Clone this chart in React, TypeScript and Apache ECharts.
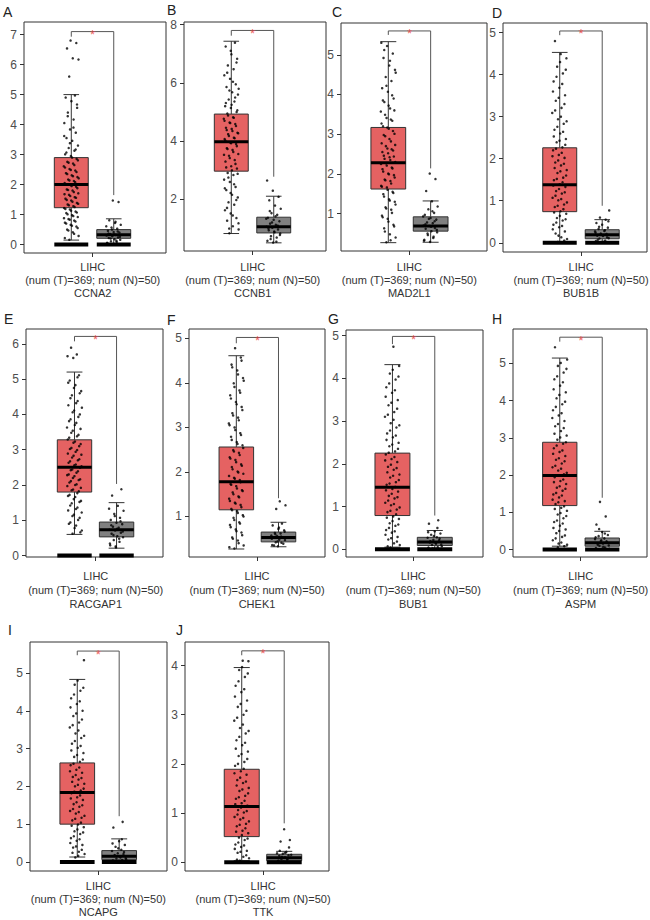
import React, { useEffect, useRef } from "react";
import * as echarts from "echarts";

// ---------------- data ----------------
const genes = ["CCNA2", "CCNB1", "MAD2L1", "BUB1B", "RACGAP1", "CHEK1", "BUB1", "ASPM", "NCAPG", "TTK"];
const panelLetters = ["A", "B", "C", "D", "E", "F", "G", "H", "I", "J"];
const cancerType = "LIHC";
const sampleNote = "(num (T)=369; num (N)=50)";

// box statistics [lower whisker, Q1, median, Q3, upper whisker]
const tumorStats = [
  [0.15, 1.23, 2.0, 2.9, 5.0],
  [0.83, 2.97, 3.98, 4.93, 7.43],
  [0.27, 1.62, 2.28, 3.17, 5.33],
  [0.0, 0.74, 1.38, 2.26, 4.53],
  [0.6, 1.8, 2.5, 3.28, 5.2],
  [0.27, 1.15, 1.78, 2.56, 4.61],
  [0.05, 0.79, 1.45, 2.25, 4.32],
  [0.09, 1.18, 1.99, 2.88, 5.14],
  [0.13, 1.0, 1.84, 2.62, 4.83],
  [0.03, 0.52, 1.13, 1.89, 3.96],
];
const normalStats = [
  [0.0, 0.21, 0.33, 0.5, 0.86],
  [0.51, 0.85, 1.06, 1.39, 2.11],
  [0.28, 0.56, 0.69, 0.92, 1.32],
  [0.0, 0.095, 0.19, 0.31, 0.55],
  [0.21, 0.53, 0.73, 0.95, 1.5],
  [0.32, 0.43, 0.53, 0.65, 0.87],
  [0.0, 0.09, 0.17, 0.28, 0.44],
  [0.0, 0.09, 0.18, 0.31, 0.49],
  [0.0, 0.06, 0.15, 0.3, 0.61],
  [0.0, 0.03, 0.09, 0.16, 0.22],
];
// cluster of samples at exactly 0 (drawn as a bar at y = 0)
const tumorZeroCluster = [1, 0, 0, 1, 1, 0, 1, 1, 1, 1];
const normalZeroCluster = [1, 0, 0, 1, 1, 0, 1, 1, 1, 1];

// significance bracket: [top, left leg end, right leg end]
const bracketTop = [7.1, 7.8, 5.6, 5.04, 6.21, 5.02, 4.98, 5.7, 5.58, 4.3];
const bracketLeftEnd = [6.93, 7.62, 5.5, 4.94, 6.07, 4.89, 4.8, 5.58, 5.47, 4.21];
const bracketRightEnd = [1.65, 2.78, 2.14, 0.88, 2.03, 1.41, 0.79, 1.39, 1.21, 0.79];

// y tick labels
const yTicks = [
  [0, 1, 2, 3, 4, 5, 6, 7],
  [2, 4, 6, 8],
  [1, 2, 3, 4, 5],
  [0, 1, 2, 3, 4, 5],
  [0, 1, 2, 3, 4, 5, 6],
  [1, 2, 3, 4, 5],
  [0, 1, 2, 3, 4, 5],
  [0, 1, 2, 3, 4, 5],
  [0, 1, 2, 3, 4, 5],
  [0, 1, 2, 3, 4],
];

// jittered sample points
const tumorA = [0.16,0.29,0.41,0.5,0.6,0.66,0.73,0.8,0.85,0.92,0.98,1.05,1.1,1.17,1.22,1.28,1.34,1.39,1.47,1.53,1.58,1.66,1.71,1.8,1.84,1.93,1.99,2.05,2.12,2.17,2.25,2.31,2.38,2.47,2.52,2.61,2.7,2.76,2.86,2.95,3.01,3.13,3.22,3.3,3.46,3.55,3.73,3.84,4.05,4.17,4.4,4.56,4.78,4.9,4.97,5.6,6.17,6.21,6.54,6.72,6.8,
  0.22,0.36,0.47,0.55,0.63,0.7,0.77,0.83,0.88,0.95,1.01,1.07,1.13,1.19,1.25,1.31,1.36,1.43,1.49,1.56,1.62,1.68,1.75,1.82,1.88,1.95,2.02,2.08,2.14,2.21,2.28,2.35,2.42,2.49,2.57,2.65,2.73,2.81,2.9,3.07,3.17,3.38,3.62,3.9,4.28,4.67];
const normalA = [0.02,0.04,0.09,0.11,0.16,0.18,0.22,0.24,0.28,0.3,0.32,0.35,0.4,0.42,0.46,0.53,0.57,0.66,0.72,0.81,1.42,1.47,
  0.06,0.13,0.2,0.26,0.34,0.37,0.44,0.5,0.61,0.76];
const tumorB = [0.84,0.97,1.08,1.27,1.36,1.52,1.63,1.82,1.9,2.07,2.16,2.32,2.43,2.6,2.68,2.84,2.91,3.06,3.14,3.3,3.35,3.5,3.56,3.7,3.76,3.9,3.95,4.07,4.12,4.24,4.29,4.42,4.46,4.59,4.64,4.77,4.82,4.95,5.0,5.14,5.2,5.36,5.43,5.6,5.68,5.86,5.95,6.14,6.26,6.47,6.6,6.83,6.98,7.25,7.38,
  1.0,1.18,1.45,1.71,1.98,2.22,2.38,2.52,2.75,2.88,3.0,3.1,3.22,3.42,3.53,3.63,3.73,3.83,3.93,4.02,4.1,4.18,4.27,4.35,4.38,4.52,4.62,4.7,4.8,4.88,5.06,5.25,5.31,5.5,5.74,5.8,6.04,6.35,6.7,7.1];
const normalB = [0.52,0.58,0.69,0.74,0.83,0.87,0.94,0.97,1.03,1.06,1.13,1.17,1.25,1.3,1.37,1.47,1.53,1.68,1.79,1.97,2.09,2.3,2.65,
  0.55,0.64,0.78,0.9,1.0,1.1,1.21,1.34,1.42,1.6];
const tumorC = [0.28,0.4,0.48,0.63,0.72,0.87,0.95,1.1,1.16,1.3,1.36,1.49,1.55,1.66,1.7,1.82,1.86,1.97,2.01,2.12,2.16,2.27,2.3,2.42,2.46,2.59,2.64,2.77,2.82,2.95,3.01,3.14,3.2,3.34,3.41,3.57,3.65,3.81,3.9,4.07,4.16,4.34,4.44,4.62,4.73,4.92,5.03,5.22,5.3,
  0.33,0.55,0.68,0.8,0.91,1.02,1.13,1.23,1.33,1.43,1.52,1.6,1.68,1.76,1.84,1.91,1.99,2.06,2.14,2.21,2.25,2.35,2.38,2.44,2.52,2.55,2.62,2.7,2.73,2.88,2.98,3.08,3.17,3.27,3.37,3.49,3.6,3.72,3.85,3.98,4.22,4.55,4.85,5.12];
const normalC = [0.29,0.34,0.42,0.46,0.53,0.56,0.62,0.64,0.69,0.7,0.76,0.78,0.85,0.89,0.97,1.02,1.11,1.18,1.31,1.57,1.87,2.01,
  0.32,0.39,0.5,0.59,0.67,0.73,0.81,0.87,0.93,1.06];
const tumorD = [0.02,0.09,0.13,0.22,0.27,0.37,0.43,0.53,0.59,0.69,0.75,0.85,0.91,1.01,1.07,1.17,1.23,1.33,1.39,1.49,1.55,1.66,1.73,1.84,1.91,2.02,2.09,2.2,2.27,2.39,2.47,2.6,2.69,2.83,2.94,3.09,3.21,3.38,3.51,3.69,3.84,4.03,4.19,4.39,4.49,4.8,
  0.05,0.17,0.32,0.4,0.48,0.56,0.64,0.72,0.8,0.88,0.96,1.04,1.12,1.2,1.28,1.36,1.44,1.52,1.6,1.7,1.78,1.88,1.96,2.06,2.14,2.24,2.33,2.43,2.53,2.64,2.76,2.89,3.0,3.15,3.3,3.45,3.6,3.78,3.95,4.12,4.3];
const normalD = [0.01,0.04,0.05,0.1,0.11,0.16,0.17,0.21,0.22,0.27,0.28,0.33,0.36,0.43,0.47,0.55,0.6,0.77,
  0.02,0.07,0.13,0.19,0.24,0.3,0.38,0.51];
const tumorE = [0.62,0.71,0.85,0.94,1.07,1.16,1.28,1.36,1.48,1.55,1.66,1.72,1.82,1.87,1.97,2.02,2.11,2.16,2.25,2.3,2.39,2.44,2.53,2.58,2.67,2.73,2.83,2.89,2.99,3.05,3.16,3.23,3.34,3.42,3.54,3.63,3.76,3.86,4.0,4.11,4.26,4.38,4.54,4.66,4.83,4.96,5.11,5.6,5.65,5.7,5.89,
  0.66,0.78,0.9,1.01,1.12,1.22,1.32,1.42,1.52,1.6,1.69,1.77,1.85,1.92,2.0,2.07,2.14,2.2,2.28,2.35,2.42,2.49,2.56,2.63,2.7,2.78,2.86,2.94,3.02,3.1,3.2,3.29,3.38,3.48,3.59,3.7,3.81,3.93,4.06,4.19,4.32,4.46,4.6,4.75,4.9,5.05];
const normalE = [0.23,0.29,0.39,0.44,0.52,0.55,0.62,0.65,0.71,0.73,0.79,0.82,0.89,0.93,1.01,1.07,1.18,1.27,1.41,1.7,1.88,
  0.26,0.34,0.48,0.58,0.68,0.76,0.86,0.97,1.12,1.33];
const tumorF = [0.28,0.35,0.46,0.53,0.64,0.71,0.81,0.87,0.97,1.03,1.12,1.17,1.26,1.31,1.4,1.45,1.54,1.59,1.68,1.73,1.82,1.87,1.96,2.01,2.11,2.17,2.27,2.33,2.43,2.49,2.6,2.67,2.79,2.87,3.0,3.09,3.22,3.32,3.46,3.57,3.72,3.83,3.99,4.11,4.28,4.41,4.57,4.78,
  0.31,0.4,0.5,0.58,0.67,0.76,0.84,0.92,1.0,1.08,1.14,1.21,1.29,1.35,1.43,1.5,1.57,1.63,1.71,1.77,1.85,1.91,1.99,2.06,2.14,2.22,2.3,2.38,2.46,2.54,2.63,2.72,2.83,2.94,3.05,3.16,3.27,3.39,3.52,3.65,3.78,3.91,4.05,4.19,4.35,4.5];
const normalF = [0.33,0.36,0.41,0.42,0.47,0.48,0.52,0.53,0.56,0.57,0.62,0.63,0.69,0.72,0.8,0.84,1.17,1.25,1.34,
  0.35,0.39,0.44,0.5,0.55,0.6,0.66,0.75];
const tumorG = [0.04,0.1,0.14,0.23,0.29,0.39,0.45,0.55,0.61,0.71,0.77,0.87,0.93,1.03,1.09,1.19,1.25,1.35,1.41,1.51,1.57,1.68,1.75,1.86,1.93,2.04,2.11,2.22,2.29,2.41,2.49,2.62,2.71,2.85,2.95,3.1,3.21,3.37,3.49,3.66,3.79,3.97,4.11,4.29,4.74,
  0.07,0.18,0.26,0.34,0.42,0.5,0.58,0.66,0.74,0.82,0.9,0.98,1.06,1.14,1.22,1.3,1.38,1.46,1.54,1.62,1.72,1.8,1.9,1.98,2.08,2.16,2.26,2.35,2.45,2.56,2.66,2.78,2.9,3.03,3.15,3.29,3.43,3.57,3.72,3.88,4.04,4.2];
const normalG = [0.01,0.04,0.05,0.1,0.11,0.15,0.16,0.21,0.22,0.27,0.28,0.34,0.37,0.42,0.6,0.68,
  0.02,0.07,0.13,0.19,0.25,0.31,0.4,0.5];
const tumorH = [0.06,0.13,0.19,0.3,0.38,0.5,0.58,0.7,0.78,0.9,0.98,1.09,1.16,1.27,1.34,1.45,1.52,1.63,1.7,1.81,1.88,1.99,2.06,2.17,2.25,2.37,2.45,2.57,2.66,2.79,2.88,3.01,3.11,3.26,3.37,3.53,3.66,3.83,3.97,4.15,4.3,4.49,4.65,4.85,5.01,5.43,
  0.09,0.16,0.25,0.34,0.44,0.54,0.64,0.74,0.84,0.94,1.04,1.12,1.22,1.3,1.4,1.48,1.58,1.66,1.76,1.84,1.94,2.02,2.12,2.21,2.31,2.41,2.51,2.62,2.72,2.84,2.95,3.06,3.18,3.31,3.45,3.6,3.74,3.9,4.06,4.22,4.4,4.57,4.75,4.93,5.1];
const normalH = [0.01,0.04,0.05,0.1,0.11,0.16,0.17,0.22,0.23,0.28,0.3,0.36,0.39,0.47,0.67,0.89,1.28,
  0.02,0.07,0.13,0.19,0.25,0.33,0.43,0.55];
const tumorI = [0.12,0.21,0.27,0.38,0.45,0.56,0.63,0.74,0.81,0.92,0.99,1.1,1.17,1.28,1.35,1.46,1.53,1.64,1.71,1.82,1.89,2.0,2.07,2.18,2.25,2.36,2.44,2.56,2.65,2.78,2.88,3.02,3.13,3.28,3.4,3.56,3.69,3.86,4.0,4.18,4.33,4.53,4.69,5.34,
  0.16,0.24,0.32,0.41,0.5,0.6,0.68,0.78,0.86,0.96,1.04,1.14,1.22,1.32,1.4,1.5,1.58,1.68,1.76,1.86,1.94,2.04,2.12,2.22,2.3,2.4,2.5,2.6,2.71,2.83,2.95,3.07,3.2,3.34,3.48,3.62,3.77,3.93,4.09,4.25,4.43,4.61,4.8];
const normalI = [0.01,0.04,0.05,0.09,0.1,0.15,0.16,0.21,0.23,0.29,0.32,0.4,0.45,0.55,0.91,1.06,
  0.02,0.07,0.12,0.18,0.26,0.36,0.49,0.6];
const tumorJ = [0.03,0.08,0.11,0.19,0.23,0.31,0.36,0.45,0.5,0.59,0.64,0.73,0.78,0.87,0.92,1.01,1.06,1.15,1.2,1.29,1.35,1.45,1.51,1.61,1.67,1.78,1.85,1.96,2.04,2.16,2.25,2.38,2.48,2.62,2.73,2.88,3.0,3.16,3.29,3.46,3.59,3.77,3.91,4.09,4.1,
  0.05,0.14,0.21,0.27,0.34,0.4,0.48,0.55,0.62,0.69,0.76,0.83,0.9,0.97,1.04,1.11,1.18,1.25,1.32,1.4,1.48,1.56,1.64,1.72,1.81,1.9,2.0,2.1,2.2,2.31,2.43,2.55,2.67,2.8,2.94,3.08,3.22,3.37,3.52,3.68,3.84,3.97];
const normalJ = [0.01,0.02,0.05,0.06,0.09,0.1,0.13,0.14,0.17,0.18,0.21,0.42,0.45,0.67,
  0.03,0.07,0.11,0.15,0.19,0.23,0.3];

const tumorPoints = [tumorA, tumorB, tumorC, tumorD, tumorE, tumorF, tumorG, tumorH, tumorI, tumorJ];
const normalPoints = [normalA, normalB, normalC, normalD, normalE, normalF, normalG, normalH, normalI, normalJ];

// ---------------- layout ----------------
const FONT = '"Liberation Sans", Arial, Helvetica, sans-serif';
// plot frames [left, top, right, bottom] in px
const FRAMES = [
  [24, 22, 166, 253],
  [184, 22, 326, 251],
  [341, 23, 487, 251],
  [503, 23, 647, 252],
  [26, 329, 163, 557],
  [189, 329, 325, 557],
  [346, 330, 483, 557],
  [513, 329, 647, 557],
  [30, 642, 167, 871],
  [185, 642, 329, 871],
];
// y axis extent [min, max]
const Y_RANGE = [
  [-0.28, 7.42],
  [0.23, 8.09],
  [0.06, 5.8],
  [-0.22, 5.23],
  [-0.04, 6.42],
  [0.09, 5.21],
  [-0.18, 5.13],
  [-0.2, 5.92],
  [-0.24, 5.82],
  [-0.18, 4.48],
];
// horizontal layout as fraction of frame width: [tumor center, normal center, tick, box width]
const X_LAYOUT = [
  [0.333, 0.632, 0.484, 0.239],
  [0.333, 0.632, 0.484, 0.239],
  [0.324, 0.614, 0.468, 0.238],
  [0.394, 0.689, 0.542, 0.236],
  [0.354, 0.661, 0.509, 0.251],
  [0.348, 0.658, 0.5, 0.254],
  [0.339, 0.648, 0.491, 0.255],
  [0.349, 0.666, 0.505, 0.256],
  [0.345, 0.651, 0.499, 0.253],
  [0.394, 0.689, 0.542, 0.243],
];
const LABEL_MARGIN = [7.5, 9.5, 9.5, 8.5, 11.5, 11.5, 11.5, 11.5, 9, 9];
const LABEL_LH = [13, 13, 13, 13, 14, 14, 14, 14, 12.7, 12.7];
const LETTER_POS = [
  [3, 5], [167, 3], [332, 5], [492, 6],
  [4, 312], [167, 313], [328, 312], [492, 312],
  [8, 623], [176, 623],
];

const TUMOR_COLOR = "#E56262";
const NORMAL_COLOR = "#808080";
const JITTER_PX = 7.5;

function jitter(j: number) {
  const f = (j * 0.618034 + 0.37) % 1;
  return f * 2 - 1;
}

function buildOption() {
  const grid: any[] = [];
  const xAxis: any[] = [];
  const yAxis: any[] = [];
  const series: any[] = [];
  const graphic: any[] = [];

  for (let i = 0; i < 10; i++) {
    const [L, T, R, B] = FRAMES[i];
    const W = R - L;
    const [tC, nC, tick, bw] = X_LAYOUT[i];
    const jw = JITTER_PX / W;

    grid.push({
      left: L,
      top: T,
      width: W,
      height: B - T,
      show: true,
      borderColor: "#333",
      borderWidth: 1,
      backgroundColor: "rgba(0,0,0,0)",
      containLabel: false,
      outerBoundsMode: "none",
    });
    const gene = genes[i];
    xAxis.push({
      gridIndex: i,
      type: "value",
      min: 0,
      max: 1,
      axisLine: { show: false, onZero: false },
      splitLine: { show: false },
      axisTick: { show: true, length: 4, lineStyle: { color: "#333" }, customValues: [tick] },
      axisLabel: {
        show: true,
        customValues: [tick],
        formatter: () => `${cancerType}\n${sampleNote}\n${gene}`,
        fontSize: 11,
        lineHeight: LABEL_LH[i],
        color: "#333",
        margin: LABEL_MARGIN[i],
        fontFamily: FONT,
      },
    });
    yAxis.push({
      gridIndex: i,
      type: "value",
      min: Y_RANGE[i][0],
      max: Y_RANGE[i][1],
      axisLine: { show: false, onZero: false },
      splitLine: { show: false },
      axisTick: { show: true, length: 4, lineStyle: { color: "#333" }, customValues: yTicks[i] },
      axisLabel: {
        show: true,
        customValues: yTicks[i],
        fontSize: 12,
        color: "#4d4d4d",
        margin: 7,
        fontFamily: FONT,
      },
    });

    // boxes
    series.push({
      type: "custom",
      xAxisIndex: i,
      yAxisIndex: i,
      z: 2,
      clip: false,
      silent: true,
      encode: { x: 0, y: [1, 2, 3, 4, 5] },
      data: [
        [tC, ...tumorStats[i], tumorZeroCluster[i], 0],
        [nC, ...normalStats[i], normalZeroCluster[i], 1],
      ],
      renderItem: (params: any, api: any) => {
        const cx = api.value(0);
        const lo = api.value(1);
        const q1 = api.value(2);
        const md = api.value(3);
        const q3 = api.value(4);
        const hi = api.value(5);
        const zero = api.value(6);
        const kind = api.value(7);
        const pTL = api.coord([cx - bw / 2, q3]);
        const pBR = api.coord([cx + bw / 2, q1]);
        const xc = api.coord([cx, md])[0];
        const ymd = api.coord([cx, md])[1];
        const yhi = api.coord([cx, hi])[1];
        const ylo = api.coord([cx, lo])[1];
        const y0 = api.coord([cx, 0])[1];
        const xl = pTL[0];
        const xr = pBR[0];
        const cap = (xr - xl) * 0.23;
        const stroke = { stroke: "#333", lineWidth: 1 };
        const children: any[] = [
          { type: "line", shape: { x1: xc, y1: yhi, x2: xc, y2: pTL[1] }, style: stroke },
          { type: "line", shape: { x1: xc, y1: pBR[1], x2: xc, y2: ylo }, style: stroke },
          { type: "line", shape: { x1: xc - cap, y1: yhi, x2: xc + cap, y2: yhi }, style: stroke },
          { type: "line", shape: { x1: xc - cap, y1: ylo, x2: xc + cap, y2: ylo }, style: stroke },
          {
            type: "rect",
            shape: { x: xl, y: pTL[1], width: xr - xl, height: pBR[1] - pTL[1] },
            style: { fill: kind === 0 ? TUMOR_COLOR : NORMAL_COLOR, stroke: "#333", lineWidth: 1 },
          },
          { type: "line", shape: { x1: xl, y1: ymd, x2: xr, y2: ymd }, style: { stroke: "#000", lineWidth: 3 } },
        ];
        if (zero) {
          children.push({
            type: "rect",
            shape: { x: xl, y: y0 - 2, width: xr - xl, height: 4 },
            style: { fill: "#000" },
          });
        }
        return { type: "group", children };
      },
    });

    // points
    series.push({
      type: "scatter",
      xAxisIndex: i,
      yAxisIndex: i,
      z: 3,
      silent: true,
      symbol: "circle",
      symbolSize: 2.5,
      itemStyle: { color: "#000" },
      data: tumorPoints[i].map((v, j) => [tC + jitter(j) * jw, v]),
    });
    series.push({
      type: "scatter",
      xAxisIndex: i,
      yAxisIndex: i,
      z: 3,
      silent: true,
      symbol: "circle",
      symbolSize: 2.5,
      itemStyle: { color: "#000" },
      data: normalPoints[i].map((v, j) => [nC + jitter(j + 5) * jw, v]),
    });

    // bracket
    series.push({
      type: "line",
      xAxisIndex: i,
      yAxisIndex: i,
      z: 4,
      silent: true,
      symbol: "none",
      lineStyle: { color: "#555", width: 1 },
      data: [
        [tC, bracketLeftEnd[i]],
        [tC, bracketTop[i]],
        [nC, bracketTop[i]],
        [nC, bracketRightEnd[i]],
      ],
    });
    series.push({
      type: "scatter",
      xAxisIndex: i,
      yAxisIndex: i,
      z: 5,
      silent: true,
      symbolSize: 1,
      itemStyle: { color: "rgba(0,0,0,0)" },
      label: {
        show: true,
        formatter: "*",
        position: "inside",
        color: "#EE3B3B",
        fontSize: 13,
        fontFamily: FONT,
        offset: [0, 3],
      },
      data: [[(tC + nC) / 2, bracketTop[i]]],
    });

    graphic.push({
      type: "text",
      left: LETTER_POS[i][0],
      top: LETTER_POS[i][1],
      style: { text: panelLetters[i], fill: "#222", font: `14px ${FONT}`, lineHeight: 14 },
    });
  }

  return { animation: false, grid, xAxis, yAxis, series, graphic };
}

export default function App() {
  const ref = useRef<HTMLDivElement>(null);
  useEffect(() => {
    if (!ref.current) return;
    const chart = echarts.init(ref.current, null, { renderer: "svg" });
    chart.setOption(buildOption() as any);
    return () => chart.dispose();
  }, []);
  return (
    <div
      ref={ref}
      style={{ position: "absolute", left: 0, top: 0, width: 650, height: 920, background: "#fff" }}
    />
  );
}
